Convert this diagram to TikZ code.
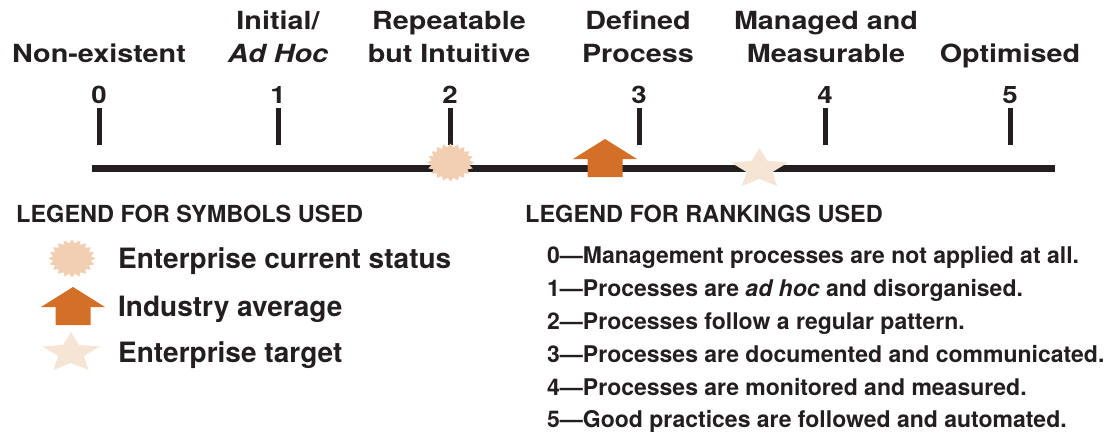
\documentclass[tikz,border=0pt]{standalone}
\usepackage{fontspec}
\setmainfont{TeX Gyre Heros}
\newfontfamily\topfont[FakeStretch=1.15]{TeX Gyre Heros}
\definecolor{ink}{HTML}{231F20}
\definecolor{burstcol}{HTML}{F2CFB3}
\definecolor{arrowcol}{HTML}{D46F28}
\definecolor{starcol}{HTML}{F6E4D4}
\begin{document}
\begin{tikzpicture}[x=1pt,y=-1pt,
  toplab/.style={anchor=base, inner sep=0pt, font=\topfont\bfseries\fontsize{25}{30}\selectfont, text=ink},
  num/.style={anchor=base, inner sep=0pt, font=\topfont\bfseries\fontsize{24}{28}\selectfont, text=ink},
  legendhead/.style={anchor=base west, inner sep=0pt, font=\bfseries\fontsize{23.5}{28}\selectfont, text=ink},
  legenditem/.style={anchor=base west, inner sep=0pt, font=\bfseries\fontsize{28}{32}\selectfont, text=ink},
  rankline/.style={anchor=base west, inner sep=0pt, font=\bfseries\fontsize{23}{28}\selectfont, text=ink},
  axisline/.style={line width=7pt, draw=ink},
  tickline/.style={line width=5pt, draw=ink},
  pics/burst/.style={code={
    \fill[burstcol] (23.5,0)
      \foreach \i [evaluate=\i as \rx using {mod(\i,2)==0 ? 23.5 : 19},
                   evaluate=\i as \ry using {mod(\i,2)==0 ? 19 : 15.3}] in {1,...,39}
      { -- ({\rx*cos(\i*9)},{\ry*sin(\i*9)}) } -- cycle;
  }},
  pics/indarrow/.style={code={
    \fill[arrowcol] (0,0) -- (32,20) -- (17.5,20) -- (17.5,38) -- (-17.5,38)
      -- (-17.5,20) -- (-32,20) -- cycle;
  }},
  pics/target/.style={code={
    \fill[starcol] (0,-21)
      \foreach \i [evaluate=\i as \rx using {mod(\i,2)==0 ? 30 : 13.5},
                   evaluate=\i as \ry using {mod(\i,2)==0 ? 21 : 10}] in {1,...,9}
      { -- ({\rx*cos(-90+\i*36)},{\ry*sin(-90+\i*36)}) } -- cycle;
  }},
]
\useasboundingbox (0,0) rectangle (1109,434);

% axis
\coordinate (axL) at (92,168);
\coordinate (axR) at (1055,168);
\draw[axisline] (axL) -- (axR);

% ticks and numbers
\foreach \n/\x in {0/99,1/278,2/450,3/639,4/825,5/1010}{
  \coordinate (t\n) at (\x,108);
  \coordinate (tb\n) at (\x,145);
  \draw[tickline] (t\n) -- (tb\n);
  \node[num] (n\n) at (\x,103) {\n};
}

% top labels
\node[toplab] (l0)  at (99,62)  {Non-existent};
\node[toplab] (l1a) at (278,29) {Initial/};
\node[toplab] (l1b) at (278,62) {\itshape Ad Hoc};
\node[toplab] (l2a) at (449,29) {Repeatable};
\node[toplab] (l2b) at (449,62) {but Intuitive};
\node[toplab] (l3a) at (638,29) {Defined};
\node[toplab] (l3b) at (638,62) {Process};
\node[toplab] (l4a) at (826,29) {Managed and};
\node[toplab] (l4b) at (826,62) {Measurable};
\node[toplab] (l5)  at (1010,62) {Optimised};

% markers on axis
\pic at (450.5,162.5) {burst};
\pic at (605,139) {indarrow};
\pic at (759.5,169) {target};

% legend for symbols
\node[legendhead] (hsym) at (16,222) {LEGEND FOR SYMBOLS USED};
\pic at (72,258.5) {burst};
\node[legenditem] (i1) at (118,268) {Enterprise current status};
\pic at (73,287) {indarrow};
\node[legenditem] (i2) at (118,316) {Industry average};
\pic at (71,353) {target};
\node[legenditem] (i3) at (118,362) {Enterprise target};

% legend for rankings
\node[legendhead] (hrank) at (525,222) {LEGEND FOR RANKINGS USED};
\node[rankline] (r0) at (547,263) {0—Management processes are not applied at all.};
\node[rankline] (r1) at (547,296) {1—Processes are \textit{ad hoc} and disorganised.};
\node[rankline] (r2) at (547,329) {2—Processes follow a regular pattern.};
\node[rankline] (r3) at (547,362) {3—Processes are documented and communicated.};
\node[rankline] (r4) at (547,395) {4—Processes are monitored and measured.};
\node[rankline] (r5) at (547,427) {5—Good practices are followed and automated.};
\end{tikzpicture}
\end{document}
